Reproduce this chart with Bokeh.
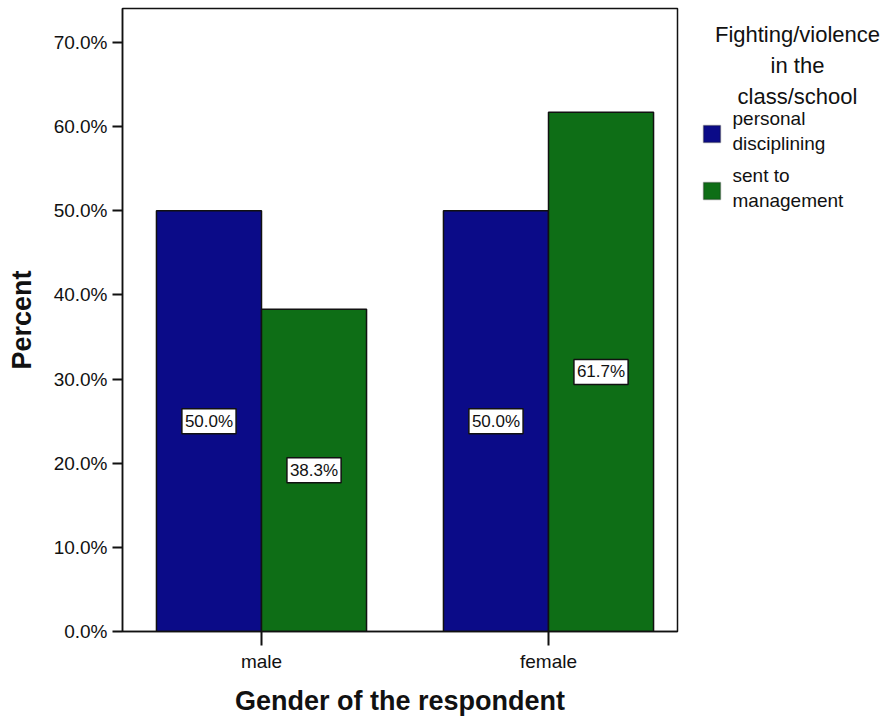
from bokeh.plotting import figure
from bokeh.layouts import row
from bokeh.models import Range1d, FixedTicker, PrintfTickFormatter, Label, BoxAnnotation
from bokeh.embed import file_html
from bokeh.resources import INLINE

# ---- data -------------------------------------------------------------
genders = ["male", "female"]
personal_disciplining = [50.0, 50.0]
sent_to_management = [38.3, 61.7]
series_text = [["personal", "disciplining"], ["sent to", "management"]]
legend_title = ["Fighting/violence", "in the", "class/school"]
y_ticks = [0, 10, 20, 30, 40, 50, 60, 70]

# ---- style ------------------------------------------------------------
BLUE = "#0b0b88"
GREEN = "#0e6e16"
INK = "#111111"
FONT = "Liberation Sans"

W, H = 883, 718
CHART_W = 700                      # chart figure; the legend figure takes the rest
FRAME_L, FRAME_R, FRAME_T, FRAME_B = 122, 677, 8, 631

PX_PER_X = 287.0                   # pixels per category step
X0 = 0.5 - (261 - FRAME_L) / PX_PER_X
X1 = X0 + (FRAME_R - FRAME_L) / PX_PER_X
Y0, Y1 = 0.0, 74.04
BAR_W = 0.366

p = figure(width=CHART_W, height=H,
           x_range=Range1d(X0, X1), y_range=Range1d(Y0, Y1),
           output_backend="svg", toolbar_location=None,
           min_border_left=FRAME_L, min_border_right=CHART_W - FRAME_R,
           min_border_top=FRAME_T, min_border_bottom=H - FRAME_B)

p.background_fill_color = "white"
p.border_fill_color = "white"
p.outline_line_color = INK
p.outline_line_width = 1.5
p.xgrid.visible = False
p.ygrid.visible = False

centers = [i + 0.5 for i in range(len(genders))]
series = [(personal_disciplining, BLUE, -BAR_W / 2), (sent_to_management, GREEN, BAR_W / 2)]

for vals, color, off in series:
    xs = [c + off for c in centers]
    p.vbar(x=xs, top=vals, bottom=0, width=BAR_W, fill_color=color,
           line_color=INK, line_width=1.5)
    for x, v in zip(xs, vals):
        p.add_layout(Label(x=x, y=v / 2, text=f"{v:.1f}%",
                           text_align="center", text_baseline="middle",
                           text_font=FONT, text_font_size="17px",
                           text_color=INK,
                           background_fill_color="white",
                           border_line_color=INK, border_line_width=1.5,
                           padding=3))

# ---- axes -------------------------------------------------------------
ya = p.yaxis[0]
ya.ticker = FixedTicker(ticks=y_ticks)
ya.formatter = PrintfTickFormatter(format="%.1f%%")
ya.axis_label = "Percent"
ya.axis_label_text_font = FONT
ya.axis_label_text_font_style = "bold"
ya.axis_label_text_font_size = "27px"
ya.axis_label_text_color = INK
ya.axis_label_standoff = 14
ya.major_label_text_font = FONT
ya.major_label_text_font_size = "19px"
ya.major_label_text_color = INK
ya.major_label_standoff = 5
ya.major_tick_in = 0
ya.major_tick_out = 10
ya.major_tick_line_width = 2
ya.major_tick_line_color = INK
ya.minor_tick_line_color = None
ya.axis_line_color = INK
ya.axis_line_width = 1.5

xa = p.xaxis[0]
xa.ticker = FixedTicker(ticks=centers)
xa.major_label_overrides = {c: g for c, g in zip(centers, genders)}
xa.axis_label = "Gender of the respondent"
xa.axis_label_text_font = FONT
xa.axis_label_text_font_style = "bold"
xa.axis_label_text_font_size = "27px"
xa.axis_label_text_color = INK
xa.axis_label_standoff = 11
xa.major_label_text_font = FONT
xa.major_label_text_font_size = "19px"
xa.major_label_text_color = INK
xa.major_label_standoff = 5
xa.major_tick_in = 0
xa.major_tick_out = 14
xa.major_tick_line_width = 2
xa.major_tick_line_color = INK
xa.minor_tick_line_color = None
xa.axis_line_color = INK
xa.axis_line_width = 1.5

# ---- legend figure (pixel coordinates, y grows downward) ---------------
lg = figure(width=W - CHART_W, height=H,
            x_range=Range1d(CHART_W, W), y_range=Range1d(FRAME_B, FRAME_T),
            x_axis_type=None, y_axis_type=None,
            output_backend="svg", toolbar_location=None,
            min_border_left=0, min_border_right=0,
            min_border_top=FRAME_T, min_border_bottom=H - FRAME_B)
lg.background_fill_color = "white"
lg.border_fill_color = "white"
lg.outline_line_color = None
lg.xgrid.visible = False
lg.ygrid.visible = False

title_cx = 797
for i, line in enumerate(legend_title):
    lg.add_layout(Label(x=title_cx, y=34 + 31 * i, text=line,
                        text_align="center", text_baseline="middle",
                        text_font=FONT, text_font_size="22px",
                        text_color=INK))

swatch_tops = [125, 182]
for (vals, color, _), lines, top in zip(series, series_text, swatch_tops):
    lg.add_layout(BoxAnnotation(left=703, right=720, top=top, bottom=top + 17,
                                fill_color=color, fill_alpha=1.0,
                                line_color=INK, line_width=1.5))
    for j, line in enumerate(lines):
        lg.add_layout(Label(x=732, y=top - 7 + 25 * j, text=line,
                            text_align="left", text_baseline="middle",
                            text_font=FONT, text_font_size="19px",
                            text_color=INK))

layout = row(p, lg, spacing=0)
open("out.html", "w").write(file_html(layout, INLINE))
